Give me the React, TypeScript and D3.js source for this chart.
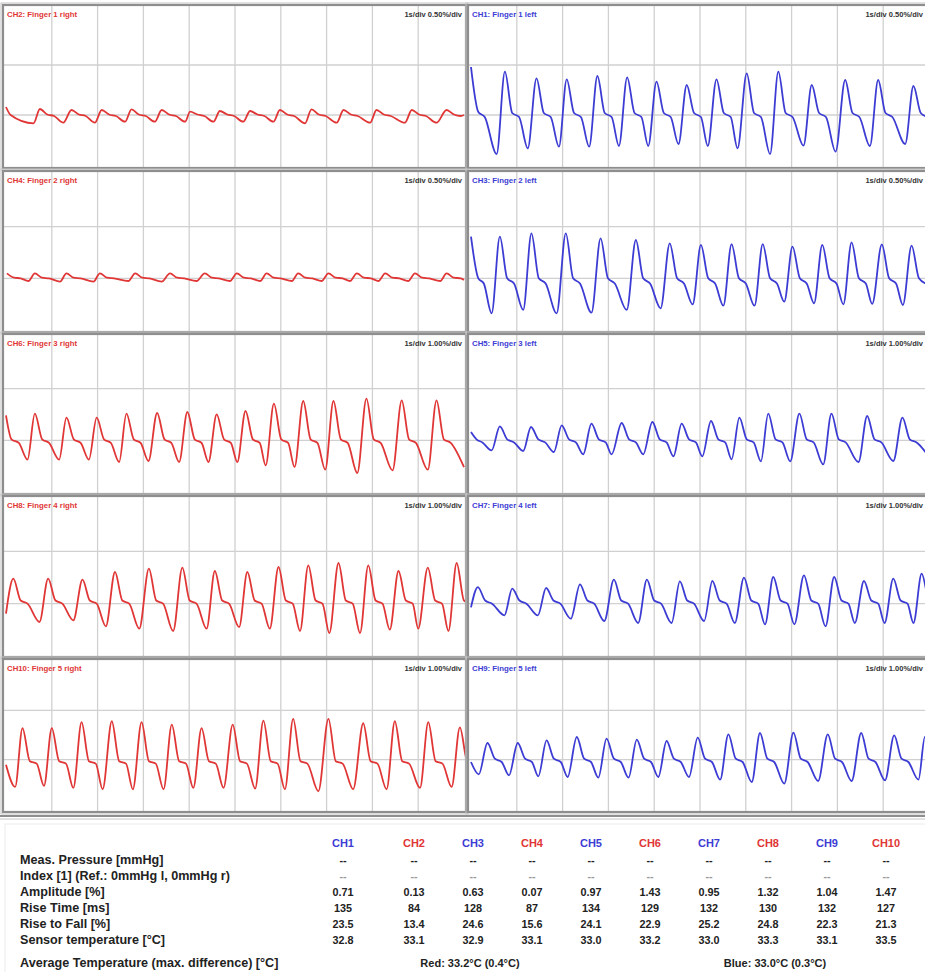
import React from 'react';
import * as d3 from 'd3';

const WIDTH = 925;
const HEIGHT = 972;

// Pulse beats per channel: [trough time (s), trough value (%), peak time (s), peak value (%)]
const ch1Beats = [
  [0.56, 0.11, 0.74, 0.933], [1.24, 0.167, 1.43, 0.867], [1.92, 0.183, 2.09, 0.857], [2.58, 0.183, 2.76, 0.89],
  [3.23, 0.19, 3.41, 0.877], [3.87, 0.19, 4.05, 0.833], [4.53, 0.21, 4.71, 0.8], [5.17, 0.19, 5.36, 0.857],
  [5.82, 0.167, 6.02, 0.917], [6.53, 0.11, 6.71, 0.933], [7.26, 0.193, 7.44, 0.8], [7.96, 0.133, 8.17, 0.85],
  [8.71, 0.19, 8.89, 0.85], [9.48, 0.21, 9.66, 0.79],
];
const ch2Beats = [
  [0.6, 0.417, 0.74, 0.56], [1.25, 0.423, 1.43, 0.55], [1.94, 0.423, 2.09, 0.55], [2.6, 0.433, 2.74, 0.557],
  [3.25, 0.433, 3.4, 0.55], [3.91, 0.433, 4.02, 0.533], [4.53, 0.433, 4.67, 0.54], [5.18, 0.433, 5.33, 0.54],
  [5.84, 0.433, 5.98, 0.55], [6.53, 0.417, 6.67, 0.557], [7.22, 0.423, 7.37, 0.55], [7.95, 0.423, 8.09, 0.55],
  [8.71, 0.423, 8.86, 0.55], [9.4, 0.423, 9.62, 0.55],
];
const ch3Beats = [
  [0.45, 0.161, 0.63, 0.903], [1.14, 0.194, 1.32, 0.935], [1.87, 0.161, 2.07, 0.935], [2.63, 0.168, 2.83, 0.887],
  [3.4, 0.194, 3.6, 0.871], [4.14, 0.21, 4.34, 0.839], [4.84, 0.248, 5.02, 0.823], [5.51, 0.235, 5.69, 0.832],
  [6.19, 0.235, 6.37, 0.832], [6.84, 0.274, 7.02, 0.806], [7.49, 0.258, 7.67, 0.823], [8.13, 0.248, 8.31, 0.848],
  [8.76, 0.252, 8.97, 0.829], [9.43, 0.242, 9.62, 0.816],
];
const ch4Beats = [
  [0.49, 0.474, 0.63, 0.548], [1.18, 0.468, 1.32, 0.548], [1.91, 0.468, 2.05, 0.548], [2.67, 0.474, 2.82, 0.548],
  [3.4, 0.468, 3.58, 0.548], [4.16, 0.474, 4.34, 0.548], [4.89, 0.474, 5.04, 0.548], [5.55, 0.474, 5.69, 0.548],
  [6.24, 0.474, 6.38, 0.548], [6.89, 0.474, 7.04, 0.548], [7.51, 0.474, 7.66, 0.548], [8.13, 0.474, 8.28, 0.548],
  [8.78, 0.474, 8.93, 0.548], [9.48, 0.474, 9.62, 0.548],
];
const ch5Beats = [
  [0.45, 0.806, 0.63, 1.271], [1.14, 0.794, 1.31, 1.258], [1.81, 0.774, 1.98, 1.29], [2.45, 0.729, 2.63, 1.323],
  [3.07, 0.729, 3.29, 1.335], [3.76, 0.729, 3.96, 1.355], [4.42, 0.69, 4.6, 1.323], [5.05, 0.69, 5.24, 1.374],
  [5.69, 0.632, 5.86, 1.439], [6.33, 0.594, 6.49, 1.516], [6.97, 0.594, 7.17, 1.516], [7.69, 0.535, 7.87, 1.516],
  [8.46, 0.581, 8.65, 1.471], [9.22, 0.6, 9.42, 1.439],
];
const ch6Beats = [
  [0.47, 0.626, 0.63, 1.516], [1.16, 0.626, 1.32, 1.439], [1.81, 0.626, 1.98, 1.439], [2.47, 0.581, 2.63, 1.516],
  [3.11, 0.6, 3.3, 1.529], [3.78, 0.581, 3.96, 1.548], [4.42, 0.581, 4.6, 1.503], [5.05, 0.581, 5.23, 1.568],
  [5.67, 0.516, 5.85, 1.71], [6.3, 0.484, 6.49, 1.761], [6.97, 0.432, 7.15, 1.761], [7.67, 0.368, 7.87, 1.806],
  [8.44, 0.419, 8.64, 1.774], [9.21, 0.432, 9.4, 1.774],
];
const ch7Beats = [
  [0, 0.93, 0.15, 1.318], [0.73, 0.777, 0.9, 1.287], [1.46, 0.777, 1.64, 1.299], [2.18, 0.713, 2.38, 1.369],
  [2.91, 0.669, 3.12, 1.459], [3.65, 0.631, 3.84, 1.459], [4.38, 0.631, 4.56, 1.427], [5.09, 0.669, 5.27, 1.433],
  [5.76, 0.631, 5.96, 1.497], [6.42, 0.605, 6.6, 1.51], [7.06, 0.605, 7.27, 1.541], [7.74, 0.567, 7.93, 1.51],
  [8.38, 0.631, 8.58, 1.433], [9.03, 0.631, 9.22, 1.478], [9.66, 0.631, 9.84, 1.573],
];
const ch8Beats = [
  [0, 0.809, 0.16, 1.478], [0.73, 0.65, 0.92, 1.478], [1.47, 0.682, 1.67, 1.459], [2.18, 0.567, 2.38, 1.605],
  [2.91, 0.522, 3.12, 1.669], [3.65, 0.478, 3.85, 1.688], [4.38, 0.522, 4.56, 1.624], [5.09, 0.554, 5.27, 1.605],
  [5.76, 0.522, 5.95, 1.701], [6.42, 0.478, 6.6, 1.732], [7.06, 0.439, 7.26, 1.777], [7.73, 0.439, 7.91, 1.732],
  [8.38, 0.503, 8.57, 1.624], [9.0, 0.522, 9.21, 1.688], [9.66, 0.478, 9.84, 1.777],
];
const ch9Beats = [
  [0.17, 0.703, 0.36, 1.338], [0.83, 0.682, 1.02, 1.338], [1.47, 0.662, 1.65, 1.392], [2.11, 0.649, 2.31, 1.459],
  [2.78, 0.635, 2.96, 1.426], [3.44, 0.635, 3.62, 1.405], [4.09, 0.649, 4.27, 1.378], [4.76, 0.649, 4.95, 1.446],
  [5.44, 0.595, 5.62, 1.514], [6.13, 0.547, 6.31, 1.541], [6.84, 0.514, 7.04, 1.547], [7.58, 0.568, 7.79, 1.514],
  [8.31, 0.568, 8.52, 1.541], [9.04, 0.581, 9.24, 1.493], [9.77, 0.595, 9.91, 1.459],
];
const ch10Beats = [
  [0.2, 0.448, 0.36, 1.641], [0.83, 0.469, 1.0, 1.641], [1.47, 0.428, 1.65, 1.759], [2.11, 0.4, 2.31, 1.779],
  [2.77, 0.4, 2.96, 1.759], [3.44, 0.4, 3.62, 1.71], [4.09, 0.428, 4.27, 1.641], [4.75, 0.428, 4.95, 1.71],
  [5.44, 0.414, 5.62, 1.793], [6.09, 0.4, 6.27, 1.828], [6.82, 0.359, 7.04, 1.828], [7.58, 0.4, 7.8, 1.738],
  [8.31, 0.4, 8.49, 1.779], [9.04, 0.428, 9.22, 1.759], [9.73, 0.448, 9.91, 1.655],
];

// Samples before the first beat and after the last one: [time (s), value (%)]
const ch1Edges = [[0, 0.98], [0.16, 0.53], [0.3, 0.48]];
const ch2Edges = [[0, 0.58], [0.1, 0.5], [10, 0.5]];
const ch3Edges = [[0, 0.903], [0.16, 0.5], [0.28, 0.45]];
const ch4Edges = [[0.02, 0.548], [0.18, 0.506], [0.32, 0.5], [10, 0.485]];
const ch5Edges = [[0, 1.161], [0.12, 1.02], [0.25, 0.96], [10, 0.68]];
const ch6Edges = [[0, 1.484], [0.12, 1.02], [0.28, 0.95], [10, 0.48]];
const ch7Edges: number[][] = [];
const ch8Edges: number[][] = [];
const ch9Edges = [[0, 0.953]];
const ch10Edges = [[0, 0.897]];

// Dicrotic notch and shoulder levels (%), CH1..CH10
const notchLevels = [0.52, 0.505, 0.5, 0.506, 1.02, 1.02, 1.06, 1.06, 1.02, 0.97];
const shoulderLevels = [0.48, 0.49, 0.45, 0.5, 0.96, 0.95, 1.0, 1.0, 0.953, 0.92];

const channelNames = ['CH1', 'CH2', 'CH3', 'CH4', 'CH5', 'CH6', 'CH7', 'CH8', 'CH9', 'CH10'];
const channelTitles = [
  'CH1: Finger 1 left', 'CH2: Finger 1 right', 'CH3: Finger 2 left', 'CH4: Finger 2 right',
  'CH5: Finger 3 left', 'CH6: Finger 3 right', 'CH7: Finger 4 left', 'CH8: Finger 4 right',
  'CH9: Finger 5 left', 'CH10: Finger 5 right',
];
const percentPerDiv = [0.5, 0.5, 0.5, 0.5, 1.0, 1.0, 1.0, 1.0, 1.0, 1.0];
const secondsPerDiv = 1;

// Measurement table
const rowLabels = [
  'Meas. Pressure [mmHg]',
  'Index [1] (Ref.: 0mmHg l, 0mmHg r)',
  'Amplitude [%]',
  'Rise Time [ms]',
  'Rise to Fall [%]',
  'Sensor temperature [°C]',
];
const pressureValues = ['--', '--', '--', '--', '--', '--', '--', '--', '--', '--'];
const indexValues = ['--', '--', '--', '--', '--', '--', '--', '--', '--', '--'];
const amplitudeValues = [0.71, 0.13, 0.63, 0.07, 0.97, 1.43, 0.95, 1.32, 1.04, 1.47];
const riseTimeValues = [135, 84, 128, 87, 134, 129, 132, 130, 132, 127];
const riseToFallValues = [23.5, 13.4, 24.6, 15.6, 24.1, 22.9, 25.2, 24.8, 22.3, 21.3];
const sensorTempValues = [32.8, 33.1, 32.9, 33.1, 33.0, 33.2, 33.0, 33.3, 33.1, 33.5];
const averageLabel = 'Average Temperature (max. difference) [°C]';
const redAverage = 'Red: 33.2°C (0.4°C)';
const blueAverage = 'Blue: 33.0°C (0.3°C)';

const beatsByChannel = [ch1Beats, ch2Beats, ch3Beats, ch4Beats, ch5Beats, ch6Beats, ch7Beats, ch8Beats, ch9Beats, ch10Beats];
const edgesByChannel = [ch1Edges, ch2Edges, ch3Edges, ch4Edges, ch5Edges, ch6Edges, ch7Edges, ch8Edges, ch9Edges, ch10Edges];

const RED = '#e03636';
const BLUE = '#3c3cd4';
const FONT = '"Liberation Sans", Arial, sans-serif';

// Panel layout: left column shows the right hand (even channels), right column the left hand
const columnX = [
  { left: 6, right: 464, frameL: 3, frameR: 466 },
  { left: 471, right: 929, frameL: 468, frameR: 932 },
];
const rowY = [
  { top: 15, bottom: 165, frameT: 5, frameB: 168 },
  { top: 175, bottom: 330, frameT: 171, frameB: 332 },
  { top: 337, bottom: 492, frameT: 334, frameB: 494 },
  { top: 499, bottom: 656, frameT: 496, frameB: 657 },
  { top: 661, bottom: 809, frameT: 659, frameB: 812 },
];

function tracePoints(ch: number): [number, number][] {
  const pts: [number, number][] = edgesByChannel[ch].map((p) => [p[0], p[1]] as [number, number]);
  const notch = notchLevels[ch];
  const shoulder = shoulderLevels[ch];
  beatsByChannel[ch].forEach(([tt, tv, pt, pv]) => {
    pts.push([tt, tv], [pt, pv], [pt + 0.16, notch], [pt + 0.31, shoulder]);
  });
  pts.sort((a, b) => a[0] - b[0]);
  return pts;
}

function Panel({ ch, col, row }: { ch: number; col: number; row: number }) {
  const cx = columnX[col];
  const ry = rowY[row];
  const perDiv = percentPerDiv[ch];
  const x = d3.scaleLinear().domain([0, 10 * secondsPerDiv]).range([cx.left, cx.right]);
  const y = d3.scaleLinear().domain([0, 3 * perDiv]).range([ry.bottom, ry.top]);
  const color = ch % 2 === 0 ? BLUE : RED;
  const line = d3
    .line<[number, number]>()
    .x((d) => x(d[0]))
    .y((d) => y(d[1]))
    .curve(d3.curveMonotoneX);
  const clipId = `clip-${ch}`;
  const vTicks = d3.range(1, 10).map((i) => i * secondsPerDiv);
  const hTicks = [1, 2].map((i) => i * perDiv);
  const textRight = Math.min(cx.right - 2, WIDTH - 2);
  return (
    <g>
      <defs>
        <clipPath id={clipId}>
          <rect x={cx.frameL + 1} y={ry.frameT + 1} width={cx.frameR - cx.frameL - 2} height={ry.frameB - ry.frameT - 2} />
        </clipPath>
      </defs>
      <rect x={cx.frameL} y={ry.frameT} width={cx.frameR - cx.frameL} height={ry.frameB - ry.frameT} fill="#fff" />
      {vTicks.map((t) => (
        <line key={`v${t}`} x1={x(t)} x2={x(t)} y1={ry.frameT} y2={ry.frameB} stroke="#d0d0d0" strokeWidth={1.3} />
      ))}
      {hTicks.map((v) => (
        <line key={`h${v}`} x1={cx.frameL} x2={cx.frameR} y1={y(v)} y2={y(v)} stroke="#d0d0d0" strokeWidth={1.3} />
      ))}
      <path d={line(tracePoints(ch)) || ''} fill="none" stroke={color} strokeWidth={1.8} strokeLinejoin="round" clipPath={`url(#${clipId})`} />
      <rect x={cx.frameL} y={ry.frameT} width={cx.frameR - cx.frameL} height={ry.frameB - ry.frameT} fill="none" stroke="#8e8e8e" strokeWidth={2.2} />
      <rect x={cx.frameL - 2} y={ry.frameT - 2} width={cx.frameR - cx.frameL + 4} height={ry.frameB - ry.frameT + 4} fill="none" stroke="#c4c4c4" strokeWidth={1} />
      <text x={cx.frameL + 4} y={ry.frameT + 12} fontFamily={FONT} fontSize={7.8} fontWeight="bold" fill={color}>
        {channelTitles[ch]}
      </text>
      <text x={textRight} y={ry.frameT + 12} fontFamily={FONT} fontSize={7.5} fontWeight="bold" fill="#333" textAnchor="end">
        {`${secondsPerDiv}s/div  ${perDiv.toFixed(2)}%/div`}
      </text>
    </g>
  );
}

function Table() {
  const colX = d3.scaleLinear().domain([0, 1, 9]).range([343, 414, 886]);
  const rowBase = d3.scaleLinear().domain([0, 1]).range([863.5, 879.5]);
  const rows: (string | number)[][] = [
    pressureValues,
    indexValues,
    amplitudeValues.map((v) => v.toFixed(2)),
    riseTimeValues.map((v) => String(v)),
    riseToFallValues.map((v) => v.toFixed(1)),
    sensorTempValues.map((v) => v.toFixed(1)),
  ];
  return (
    <g fontFamily={FONT} fontWeight="bold">
      <line x1={0} x2={WIDTH} y1={816} y2={816} stroke="#8e8e8e" strokeWidth={2} />
      <line x1={0} x2={WIDTH} y1={819} y2={819} stroke="#c4c4c4" strokeWidth={1} />
      <rect x={5} y={824} width={WIDTH} height={160} fill="none" stroke="#ececec" strokeWidth={1} />
      {channelNames.map((name, i) => (
        <text key={name} x={colX(i)} y={847} textAnchor="middle" fontSize={11} fill={i % 2 === 0 ? BLUE : RED}>
          {name}
        </text>
      ))}
      {rowLabels.map((label, r) => (
        <text key={label} x={20} y={rowBase(r)} fontSize={12.6} fill="#222">
          {label}
        </text>
      ))}
      {rows.map((vals, r) =>
        vals.map((v, i) => (
          <text key={`${r}-${i}`} x={colX(i)} y={rowBase(r)} textAnchor="middle" fontSize={10.8} fill={r === 1 ? '#999' : '#222'}>
            {v}
          </text>
        ))
      )}
      <text x={20} y={966.5} fontSize={12.6} fill="#222">{averageLabel}</text>
      <text x={470} y={966.5} fontSize={11} fill="#222" textAnchor="middle">{redAverage}</text>
      <text x={775} y={966.5} fontSize={11} fill="#222" textAnchor="middle">{blueAverage}</text>
    </g>
  );
}

const leftColumn = [1, 3, 5, 7, 9];
const rightColumn = [0, 2, 4, 6, 8];

export default function App() {
  return (
    <svg
      width={WIDTH}
      height={HEIGHT}
      viewBox={`0 0 ${WIDTH} ${HEIGHT}`}
      style={{ position: 'absolute', left: 0, top: 0, display: 'block', background: '#fff' }}
    >
      <rect width={WIDTH} height={HEIGHT} fill="#fff" />
      {leftColumn.map((ch, r) => (
        <Panel key={ch} ch={ch} col={0} row={r} />
      ))}
      {rightColumn.map((ch, r) => (
        <Panel key={ch} ch={ch} col={1} row={r} />
      ))}
      <Table />
    </svg>
  );
}
